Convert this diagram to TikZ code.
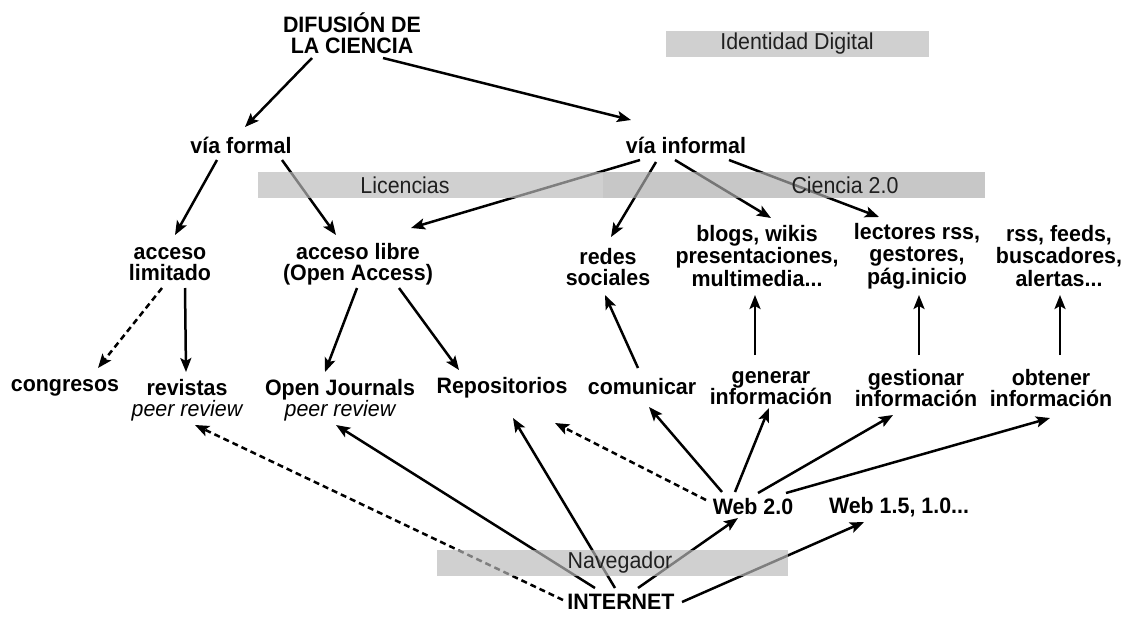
\documentclass[tikz,border=0pt]{standalone}
\usepackage{fontspec}
\setmainfont[FakeStretch=0.96]{Liberation Sans}
\newfontfamily\bandfont[FakeStretch=0.93]{Liberation Sans}
\usetikzlibrary{arrows.meta,calc}
\definecolor{bandA}{gray}{0.735}
\definecolor{bandB}{gray}{0.68}
\definecolor{bandtxt}{gray}{0.12}
\begin{document}
\begin{tikzpicture}[x=1pt,y=-1pt,
  lbl/.style={font=\fontsize{22.3}{21.5}\selectfont\bfseries, align=center, inner sep=0pt},
  lbltri/.style={lbl, font=\fontsize{22.3}{22.5}\selectfont\bfseries},
  arr/.style={line width=2.5pt, -{Stealth[length=14pt,width=11pt,inset=3pt]}},
  dsh/.style={arr, dash pattern=on 6pt off 4pt},
  bandL/.style={fill=bandA, fill opacity=0.68, draw=none},
  bandD/.style={fill=bandB, fill opacity=0.68, draw=none},
  bandtext/.style={font=\bandfont\fontsize{23}{23}\selectfont, text=bandtxt, inner sep=0pt}]
\useasboundingbox (0,0) rectangle (1131,616);
\fill[white] (0,0) rectangle (1131,616);

% nodes
\node[lbl] (d) at (352,33) {DIFUSIÓN DE\\LA CIENCIA};
\node[lbl] (vf) at (241,145) {vía formal};
\node[lbl] (vi) at (686,145) {vía informal};
\node[lbl] (al) at (170,264) {acceso\\limitado};
\node[lbl] (alib) at (358,264) {acceso libre\\(Open Access)};
\node[lbl] (rs) at (608,267) {redes\\sociales};
\node[lbltri] (bl) at (757,256) {blogs, wikis\\presentaciones,\\multimedia...};
\node[lbltri] (lr) at (917,256) {lectores rss,\\gestores,\\pág.inicio};
\node[lbltri] (rf) at (1059,256) {rss, feeds,\\buscadores,\\alertas...};
\node[lbl] (cg) at (65,388) {congresos};
\node[lbl] (rv) at (187,400) {revistas\\{\mdseries\itshape peer review}};
\node[lbl] (oj) at (340,400) {Open Journals\\{\mdseries\itshape peer review}};
\node[lbl] (rp) at (502,388) {Repositorios};
\node[lbl] (cm) at (642,387) {comunicar};
\node[lbl] (gn) at (771,388) {generar\\información};
\node[lbl] (gs) at (916,388) {gestionar\\información};
\node[lbl] (ob) at (1051,388) {obtener\\información};
\node[lbl] (w2) at (753,507) {Web 2.0};
\node[lbl] (w15) at (899,507) {Web 1.5, 1.0...};
\node[lbl] (in) at (621,602) {INTERNET};

% connectors
\draw[arr] ($(d)+(-40,25)$) -- ($(vf)+(4,-18)$);
\draw[arr] ($(d)+(31,25)$) -- ($(vi)+(-55,-25)$);
\draw[arr] ($(vf)+(-24,15)$) -- ($(al)+(5,-29)$);
\draw[arr] ($(vf)+(41,15)$) -- ($(alib)+(-22,-29)$);
\draw[arr] ($(vi)+(-46,15)$) -- ($(alib)+(53,-36)$);
\draw[arr] ($(vi)+(-30,17)$) -- ($(rs)+(3,-30)$);
\draw[arr] ($(vi)+(-11,15)$) -- ($(bl)+(14,-38)$);
\draw[arr] ($(vi)+(43,15)$) -- ($(lr)+(-38,-39)$);
\draw[dsh] ($(al)+(-8,24)$) -- ($(cg)+(33,-20)$);
\draw[arr] ($(al)+(15,24)$) -- ($(rv)+(-1,-28)$);
\draw[arr] ($(alib)+(-1,24)$) -- ($(oj)+(-15,-28)$);
\draw[arr] ($(alib)+(41,24)$) -- ($(rp)+(-43,-18)$);
\draw[arr] ($(cm)+(-4,-19)$) -- ($(rs)+(-3,28)$);
\draw[arr] ($(gn)+(-16,-33)$) -- ($(bl)+(-2,39)$);
\draw[arr] ($(gs)+(3,-33)$) -- ($(lr)+(2,39)$);
\draw[arr] ($(ob)+(9,-33)$) -- ($(rf)+(1,39)$);
\draw[arr] ($(w2)+(-31,-15)$) -- ($(cm)+(7,20)$);
\draw[arr] ($(w2)+(-18,-15)$) -- ($(gn)+(-2,20)$);
\draw[arr] ($(w2)+(5,-14)$) -- ($(gs)+(-23,27)$);
\draw[arr] ($(w2)+(33,-14)$) -- ($(ob)+(-1,30)$);
\draw[dsh] ($(w2)+(-47,-7)$) -- ($(rp)+(53,35)$);
\draw[dsh] ($(in)+(-58,-2)$) -- ($(rv)+(8,25)$);
\draw[arr] ($(in)+(-26,-14)$) -- ($(oj)+(-4,25)$);
\draw[arr] ($(in)+(-6,-14)$) -- ($(rp)+(11,30)$);
\draw[arr] ($(in)+(17,-14)$) -- ($(w2)+(-15,11)$);
\draw[arr] ($(in)+(61,0)$) -- ($(w15)+(-35,15)$);

% bands (translucent, over the connectors)
\fill[bandL] (666,31) rectangle (929,57);
\fill[bandL] (258,172) rectangle (603,198);
\fill[bandD] (603,172) rectangle (985,198);
\fill[bandL] (437,550) rectangle (788,576);
\node[bandtext] (tid) at (797,44) {Identidad Digital};
\node[bandtext] (tlic) at (405,185) {Licencias};
\node[bandtext] (tc20) at (845,185) {Ciencia 2.0};
\node[bandtext] (tnav) at (620,563) {Navegador};
\end{tikzpicture}
\end{document}
